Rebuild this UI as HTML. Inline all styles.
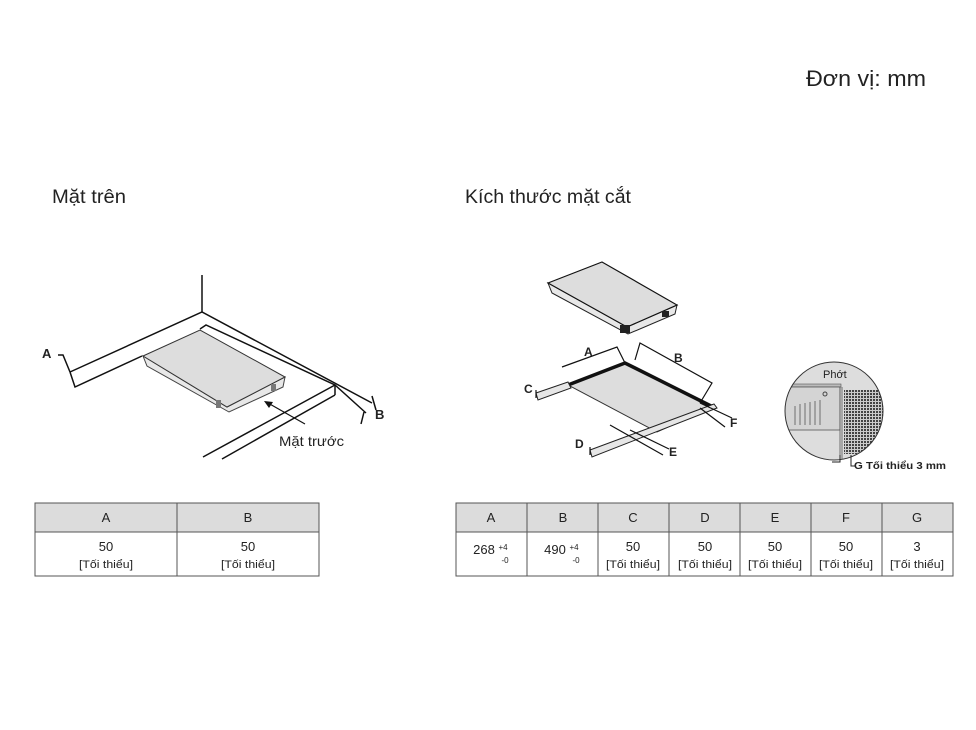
<!DOCTYPE html>
<html><head><meta charset="utf-8"><style>
html,body{margin:0;padding:0;background:#fff;}
svg{display:block;}
text{font-family:"Liberation Sans",sans-serif;fill:#222;}
</style></head><body>
<svg width="976" height="730" viewBox="0 0 976 730" xmlns="http://www.w3.org/2000/svg">
<defs>
<pattern id="grid" width="3" height="3" patternUnits="userSpaceOnUse">
<rect width="3" height="3" fill="#ccc"/><rect width="2" height="2" fill="#444"/>
</pattern>
<clipPath id="cc"><circle cx="834" cy="411" r="49"/></clipPath>
</defs>
<text x="806" y="86" font-size="22" textLength="120" lengthAdjust="spacingAndGlyphs">Đơn vị: mm</text>
<text x="52" y="203" font-size="19" textLength="74" lengthAdjust="spacingAndGlyphs">Mặt trên</text>
<text x="465" y="203" font-size="19" textLength="166" lengthAdjust="spacingAndGlyphs">Kích thước mặt cắt</text>

<!-- Left diagram -->
<g stroke="#111" stroke-width="1.5" fill="none">
<line x1="202" y1="275" x2="202" y2="312"/>
<polyline points="70,372 202,312 372,403"/>
<polyline points="70,372 75,387 142,356"/>
<polyline points="200,329 206,325 335,385 366,413"/>
<line x1="203" y1="457" x2="335" y2="385"/>
<line x1="222" y1="459" x2="335" y2="395"/>
<line x1="335" y1="385" x2="335" y2="395"/>
<polyline points="58,355 63,355 70,372"/>
<line x1="372" y1="396" x2="376" y2="410"/>
<line x1="364" y1="412" x2="361" y2="424"/>
</g>
<polygon points="143,356 227,407 285,377 283,387 229,412 147,366" fill="#e8e8e8" stroke="#444" stroke-width="1"/>
<polygon points="143,356 200,330 285,377 227,407" fill="#ddd" stroke="#333" stroke-width="1"/>
<rect x="216" y="400" width="5" height="8" fill="#777"/><rect x="271" y="384" width="5" height="7" fill="#777"/>
<line x1="305" y1="424" x2="268" y2="403" stroke="#111" stroke-width="1.2"/>
<polygon points="264,401 273,402 269,408" fill="#111"/>
<text x="279" y="446" font-size="14" textLength="65" lengthAdjust="spacingAndGlyphs">Mặt trước</text>
<text x="42" y="358" font-size="13" font-weight="bold">A</text>
<text x="375" y="419" font-size="13" font-weight="bold">B</text>

<!-- Right diagram: hob -->
<polygon points="548,283 627,327 677,305 675,314 628,334 552,293" fill="#e8e8e8" stroke="#222" stroke-width="1"/>
<polygon points="548,283 602,262 677,305 627,327" fill="#ddd" stroke="#111" stroke-width="1.2"/>
<rect x="620" y="325" width="10" height="8" fill="#222"/><rect x="662" y="311" width="7" height="6" fill="#222"/>
<!-- cutout slab -->
<polygon points="568,385 625,363 713,407 657,432" fill="#ddd" stroke="#333" stroke-width="1"/>
<polyline points="568,385 625,363 713,407" fill="none" stroke="#111" stroke-width="3.5"/>
<polygon points="536,393 568,382 571,388 538,400" fill="#e6e6e6" stroke="#222" stroke-width="1"/>
<polygon points="590,450 714,404 717,408 592,457" fill="#e6e6e6" stroke="#222" stroke-width="1"/>
<g stroke="#111" stroke-width="1.2" fill="none">
<polyline points="562,367 617,347 625,363"/>
<polyline points="635,360 640,343 712,383 700,403"/>
<line x1="700" y1="403" x2="732" y2="418"/>
<line x1="700" y1="408" x2="725" y2="427"/>
<line x1="610" y1="425" x2="663" y2="455"/>
<line x1="630" y1="430" x2="669" y2="449"/>
<line x1="536" y1="390" x2="536" y2="398"/>
<line x1="590" y1="447" x2="590" y2="455"/>
</g>
<text x="584" y="356" font-size="12" font-weight="bold">A</text>
<text x="674" y="362" font-size="12" font-weight="bold">B</text>
<text x="524" y="393" font-size="12" font-weight="bold">C</text>
<text x="575" y="448" font-size="12" font-weight="bold">D</text>
<text x="669" y="456" font-size="12" font-weight="bold">E</text>
<text x="730" y="427" font-size="12" font-weight="bold">F</text>

<!-- circle detail -->
<circle cx="834" cy="411" r="49" fill="#ddd"/>
<g clip-path="url(#cc)">
<rect x="785" y="384" width="56" height="3" fill="#bbb" stroke="#555" stroke-width="0.6"/>
<rect x="785" y="387" width="55" height="43" fill="#d4d4d4" stroke="#555" stroke-width="0.8"/>
<g stroke="#555" stroke-width="0.8"><line x1="795" y1="406" x2="795" y2="425"/><line x1="800" y1="404" x2="800" y2="425"/><line x1="805" y1="403" x2="805" y2="425"/><line x1="810" y1="402" x2="810" y2="425"/><line x1="815" y1="401" x2="815" y2="425"/><line x1="820" y1="400" x2="820" y2="425"/></g>
<rect x="844" y="390" width="40" height="64" fill="url(#grid)"/>
<line x1="840" y1="387" x2="840" y2="460" stroke="#555" stroke-width="0.8"/>
<line x1="842" y1="387" x2="842" y2="460" stroke="#555" stroke-width="0.8"/>
</g>
<circle cx="834" cy="411" r="49" fill="none" stroke="#333" stroke-width="1"/>
<text x="823" y="378" font-size="11">Phớt</text>
<circle cx="825" cy="394" r="2" fill="none" stroke="#444"/>
<polyline points="832,462 840,462 840,455" fill="none" stroke="#222"/>
<polyline points="851,455 851,466 855,466" fill="none" stroke="#222"/>
<text x="854" y="469" font-size="10" font-weight="bold" textLength="92" lengthAdjust="spacingAndGlyphs">G Tối thiểu 3 mm</text>

<!-- Left table -->
<rect x="35" y="503" width="284" height="29" fill="#dcdcdc"/>
<g stroke="#555" stroke-width="1" fill="none">
<rect x="35" y="503" width="284" height="73"/>
<line x1="35" y1="532" x2="319" y2="532"/>
<line x1="177" y1="503" x2="177" y2="576"/>
</g>
<g font-size="13" text-anchor="middle">
<text x="106" y="522">A</text><text x="248" y="522">B</text>
<text x="106" y="551">50</text><text x="248" y="551">50</text>
</g>
<g font-size="11" text-anchor="middle">
<text x="106" y="568" textLength="54" lengthAdjust="spacingAndGlyphs">[Tối thiểu]</text><text x="248" y="568" textLength="54" lengthAdjust="spacingAndGlyphs">[Tối thiểu]</text>
</g>

<!-- Right table -->
<rect x="456" y="503" width="497" height="29" fill="#dcdcdc"/>
<g stroke="#555" stroke-width="1" fill="none">
<rect x="456" y="503" width="497" height="73"/>
<line x1="456" y1="532" x2="953" y2="532"/>
<line x1="527" y1="503" x2="527" y2="576"/><line x1="598" y1="503" x2="598" y2="576"/>
<line x1="669" y1="503" x2="669" y2="576"/><line x1="740" y1="503" x2="740" y2="576"/>
<line x1="811" y1="503" x2="811" y2="576"/><line x1="882" y1="503" x2="882" y2="576"/>
</g>
<g font-size="13" text-anchor="middle">
<text x="491" y="522">A</text><text x="563" y="522">B</text><text x="633" y="522">C</text><text x="705" y="522">D</text><text x="775" y="522">E</text><text x="846" y="522">F</text><text x="917" y="522">G</text>
<text x="484" y="554">268</text><text x="555" y="554">490</text>
<text x="633" y="551">50</text><text x="705" y="551">50</text><text x="775" y="551">50</text><text x="846" y="551">50</text><text x="917" y="551">3</text>
</g>
<g font-size="8" text-anchor="middle">
<text x="503" y="550">+4</text><text x="505" y="563">-0</text>
<text x="574" y="550">+4</text><text x="576" y="563">-0</text>
</g>
<g font-size="11" text-anchor="middle">
<text x="633" y="568" textLength="54" lengthAdjust="spacingAndGlyphs">[Tối thiểu]</text><text x="705" y="568" textLength="54" lengthAdjust="spacingAndGlyphs">[Tối thiểu]</text><text x="775" y="568" textLength="54" lengthAdjust="spacingAndGlyphs">[Tối thiểu]</text><text x="846" y="568" textLength="54" lengthAdjust="spacingAndGlyphs">[Tối thiểu]</text><text x="917" y="568" textLength="54" lengthAdjust="spacingAndGlyphs">[Tối thiểu]</text>
</g>
</svg>
</body></html>
